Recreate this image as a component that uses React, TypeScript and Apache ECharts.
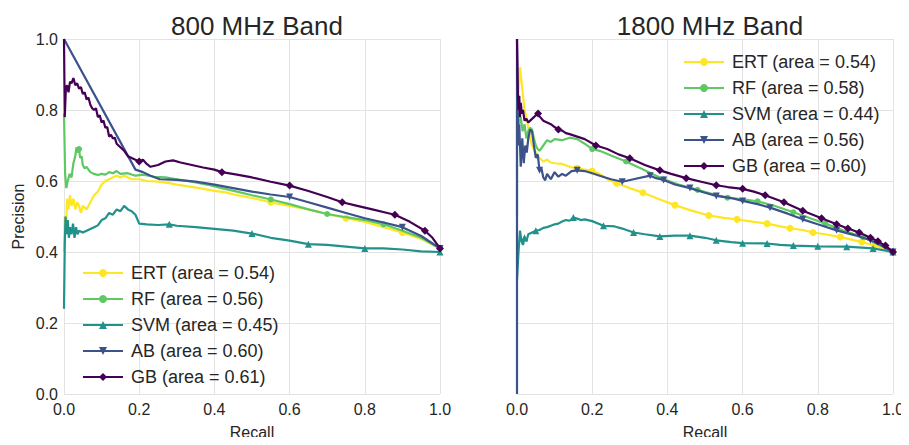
import React, { useEffect, useRef } from "react";
import * as echarts from "echarts";

// ---------- data ----------
const titles = ["800 MHz Band", "1800 MHz Band"];
const xTicks = [0, 0.2, 0.4, 0.6, 0.8, 1.0];

const names800 = ["ERT (area = 0.54)", "RF (area = 0.56)", "SVM (area = 0.45)", "AB (area = 0.60)", "GB (area = 0.61)"];
const names1800 = ["ERT (area = 0.54)", "RF (area = 0.58)", "SVM (area = 0.44)", "AB (area = 0.56)", "GB (area = 0.60)"];

const ert800 = [[0,0.40],[0.002,0.50],[0.005,0.45],[0.008,0.55],[0.012,0.52],[0.016,0.56],[0.02,0.53],[0.025,0.55],[0.03,0.52],[0.035,0.54],[0.04,0.53],[0.045,0.51],[0.05,0.53],[0.06,0.52],[0.07,0.54],[0.08,0.56],[0.09,0.57],[0.10,0.59],[0.11,0.60],[0.12,0.605],[0.13,0.61],[0.14,0.615],[0.15,0.61],[0.16,0.615],[0.18,0.605],[0.2,0.605],[0.22,0.60],[0.25,0.598],[0.28,0.594],[0.3,0.59],[0.33,0.585],[0.36,0.58],[0.4,0.572],[0.43,0.568],[0.46,0.56],[0.5,0.552],[0.55,0.54],[0.6,0.53],[0.65,0.52],[0.7,0.507],[0.75,0.495],[0.8,0.485],[0.85,0.47],[0.9,0.455],[0.95,0.437],[1.0,0.41]];
const rf800 = [[0,0.79],[0.003,0.62],[0.006,0.58],[0.01,0.60],[0.015,0.62],[0.02,0.61],[0.025,0.65],[0.03,0.67],[0.033,0.695],[0.037,0.68],[0.04,0.69],[0.043,0.665],[0.047,0.67],[0.05,0.645],[0.055,0.635],[0.06,0.64],[0.07,0.625],[0.08,0.62],[0.09,0.617],[0.1,0.62],[0.11,0.618],[0.12,0.625],[0.13,0.622],[0.14,0.628],[0.15,0.62],[0.17,0.622],[0.19,0.615],[0.21,0.618],[0.24,0.612],[0.27,0.61],[0.3,0.605],[0.34,0.598],[0.38,0.59],[0.42,0.58],[0.46,0.57],[0.5,0.56],[0.55,0.548],[0.6,0.535],[0.65,0.52],[0.7,0.507],[0.75,0.498],[0.8,0.49],[0.85,0.478],[0.9,0.46],[0.95,0.44],[1.0,0.41]];
const svm800 = [[0,0.24],[0.002,0.42],[0.004,0.50],[0.007,0.45],[0.01,0.49],[0.013,0.44],[0.016,0.47],[0.02,0.45],[0.024,0.48],[0.028,0.44],[0.032,0.47],[0.036,0.45],[0.04,0.46],[0.05,0.455],[0.06,0.46],[0.07,0.465],[0.08,0.47],[0.09,0.475],[0.1,0.49],[0.11,0.495],[0.12,0.51],[0.13,0.505],[0.14,0.52],[0.15,0.515],[0.16,0.53],[0.17,0.52],[0.18,0.515],[0.19,0.505],[0.2,0.48],[0.22,0.478],[0.25,0.476],[0.28,0.478],[0.3,0.474],[0.35,0.47],[0.4,0.465],[0.45,0.46],[0.5,0.452],[0.55,0.44],[0.6,0.432],[0.65,0.422],[0.7,0.42],[0.75,0.415],[0.8,0.41],[0.85,0.41],[0.9,0.407],[0.95,0.402],[1.0,0.40]];
const ab800 = [[0,1.0],[0.19,0.632],[0.21,0.625],[0.23,0.615],[0.255,0.605],[0.3,0.603],[0.35,0.598],[0.4,0.59],[0.45,0.58],[0.5,0.57],[0.55,0.562],[0.6,0.555],[0.65,0.54],[0.7,0.525],[0.75,0.51],[0.8,0.495],[0.85,0.483],[0.9,0.47],[0.95,0.445],[1.0,0.41]];
const gb800 = [[0,1.0],[0.002,0.78],[0.005,0.86],[0.008,0.87],[0.012,0.85],[0.016,0.88],[0.02,0.875],[0.025,0.89],[0.03,0.87],[0.035,0.875],[0.04,0.86],[0.045,0.865],[0.05,0.845],[0.055,0.85],[0.06,0.83],[0.065,0.835],[0.07,0.815],[0.075,0.805],[0.08,0.80],[0.085,0.805],[0.09,0.78],[0.095,0.785],[0.1,0.765],[0.105,0.77],[0.11,0.75],[0.115,0.752],[0.12,0.725],[0.125,0.73],[0.13,0.72],[0.135,0.722],[0.14,0.705],[0.15,0.695],[0.16,0.685],[0.17,0.67],[0.18,0.665],[0.19,0.66],[0.2,0.655],[0.21,0.66],[0.22,0.648],[0.23,0.64],[0.25,0.645],[0.27,0.655],[0.29,0.658],[0.31,0.652],[0.34,0.645],[0.37,0.638],[0.4,0.632],[0.42,0.625],[0.46,0.618],[0.5,0.61],[0.55,0.598],[0.6,0.587],[0.65,0.572],[0.7,0.555],[0.74,0.54],[0.78,0.53],[0.82,0.52],[0.86,0.51],[0.88,0.505],[0.92,0.485],[0.96,0.46],[0.98,0.44],[1.0,0.41]];

const ert1800 = [[0,0.78],[0.004,0.85],[0.008,0.92],[0.012,0.88],[0.016,0.84],[0.02,0.80],[0.025,0.78],[0.03,0.75],[0.035,0.72],[0.04,0.70],[0.05,0.68],[0.06,0.665],[0.07,0.655],[0.08,0.66],[0.09,0.652],[0.1,0.65],[0.12,0.648],[0.14,0.64],[0.16,0.636],[0.18,0.632],[0.2,0.628],[0.22,0.62],[0.24,0.605],[0.265,0.594],[0.3,0.58],[0.335,0.567],[0.38,0.548],[0.42,0.532],[0.46,0.518],[0.51,0.503],[0.55,0.496],[0.585,0.492],[0.63,0.485],[0.665,0.48],[0.7,0.472],[0.726,0.467],[0.76,0.462],[0.787,0.455],[0.82,0.45],[0.86,0.442],[0.89,0.435],[0.917,0.428],[0.95,0.418],[0.975,0.41],[1.0,0.40]];
const rf1800 = [[0,0.50],[0,0.80],[0.005,0.76],[0.01,0.78],[0.015,0.74],[0.02,0.76],[0.025,0.72],[0.03,0.74],[0.035,0.75],[0.04,0.745],[0.045,0.72],[0.05,0.70],[0.055,0.69],[0.06,0.685],[0.07,0.70],[0.08,0.715],[0.09,0.71],[0.1,0.718],[0.12,0.715],[0.14,0.722],[0.16,0.718],[0.18,0.705],[0.2,0.69],[0.22,0.685],[0.25,0.672],[0.29,0.655],[0.33,0.635],[0.36,0.62],[0.39,0.605],[0.43,0.59],[0.48,0.575],[0.52,0.563],[0.56,0.553],[0.6,0.548],[0.64,0.543],[0.69,0.528],[0.735,0.512],[0.78,0.495],[0.82,0.48],[0.87,0.46],[0.92,0.442],[0.96,0.422],[1.0,0.40]];
const svm1800 = [[0,0.32],[0.004,0.40],[0.008,0.46],[0.012,0.43],[0.016,0.42],[0.02,0.44],[0.025,0.43],[0.03,0.45],[0.04,0.455],[0.05,0.46],[0.06,0.462],[0.07,0.468],[0.08,0.47],[0.09,0.474],[0.1,0.478],[0.11,0.48],[0.12,0.486],[0.13,0.49],[0.14,0.488],[0.15,0.497],[0.16,0.494],[0.17,0.49],[0.18,0.492],[0.2,0.487],[0.23,0.474],[0.26,0.472],[0.28,0.466],[0.31,0.455],[0.34,0.45],[0.38,0.444],[0.42,0.446],[0.46,0.446],[0.5,0.44],[0.53,0.433],[0.57,0.428],[0.6,0.425],[0.665,0.424],[0.7,0.42],[0.735,0.418],[0.8,0.416],[0.877,0.415],[0.947,0.41],[1.0,0.40]];
const ab1800 = [[0,0.0],[0,1.0],[0.003,0.70],[0.006,0.76],[0.01,0.64],[0.014,0.72],[0.018,0.65],[0.022,0.70],[0.026,0.68],[0.03,0.72],[0.035,0.745],[0.04,0.74],[0.045,0.70],[0.05,0.665],[0.055,0.675],[0.06,0.63],[0.065,0.635],[0.07,0.61],[0.075,0.602],[0.08,0.62],[0.09,0.605],[0.1,0.625],[0.11,0.612],[0.12,0.62],[0.13,0.615],[0.145,0.628],[0.16,0.63],[0.18,0.628],[0.2,0.622],[0.22,0.615],[0.25,0.605],[0.28,0.598],[0.31,0.605],[0.354,0.615],[0.37,0.608],[0.39,0.603],[0.42,0.59],[0.46,0.58],[0.5,0.567],[0.53,0.558],[0.57,0.552],[0.6,0.544],[0.64,0.535],[0.673,0.525],[0.72,0.508],[0.76,0.492],[0.8,0.478],[0.85,0.461],[0.9,0.447],[0.94,0.433],[0.97,0.418],[1.0,0.40]];
const gb1800 = [[0,1.0],[0.002,0.86],[0.004,0.80],[0.006,0.84],[0.008,0.78],[0.01,0.82],[0.013,0.79],[0.016,0.80],[0.02,0.77],[0.025,0.775],[0.03,0.765],[0.035,0.77],[0.04,0.775],[0.045,0.78],[0.05,0.785],[0.056,0.79],[0.06,0.782],[0.07,0.77],[0.08,0.765],[0.09,0.76],[0.1,0.752],[0.11,0.745],[0.12,0.742],[0.13,0.735],[0.14,0.732],[0.16,0.725],[0.18,0.718],[0.21,0.70],[0.24,0.69],[0.27,0.675],[0.3,0.664],[0.34,0.645],[0.38,0.63],[0.41,0.62],[0.45,0.608],[0.49,0.598],[0.53,0.588],[0.56,0.583],[0.6,0.578],[0.63,0.57],[0.66,0.56],[0.71,0.54],[0.76,0.516],[0.81,0.495],[0.85,0.478],[0.88,0.466],[0.91,0.455],[0.94,0.44],[0.96,0.43],[0.98,0.418],[1.0,0.40]];

// recall positions where a marker is drawn (markevery-like)
const marks800 = [
  [0.55, 0.75, 0.92],
  [0.04, 0.55, 0.7, 0.85, 1.0],
  [0.28, 0.5, 0.65, 0.8, 1.0],
  [0.6, 0.9, 1.0],
  [0.2, 0.42, 0.6, 0.74, 0.88, 0.96, 1.0],
];
const marks1800 = [
  [0.16, 0.2, 0.265, 0.335, 0.42, 0.51, 0.585, 0.665, 0.726, 0.787, 0.86, 0.917, 0.95, 1.0],
  [0.2, 0.29, 0.39, 0.48, 0.56, 0.64, 0.735, 0.82, 0.92, 1.0],
  [0.02, 0.05, 0.15, 0.23, 0.31, 0.38, 0.46, 0.53, 0.6, 0.665, 0.735, 0.8, 0.877, 0.947, 1.0],
  [0.06, 0.16, 0.28, 0.354, 0.39, 0.46, 0.53, 0.6, 0.673, 0.76, 0.85, 0.94, 1.0],
  [0.056, 0.11, 0.21, 0.3, 0.38, 0.45, 0.53, 0.6, 0.66, 0.71, 0.76, 0.81, 0.85, 0.88, 0.91, 0.94, 0.96, 0.98, 1.0],
];

// ---------- styles ----------
const colors = ["#fde725", "#5ec962", "#21918c", "#3b528b", "#440154"];
const symbols = ["circle", "circle", "triangle", "triangle", "diamond"];
const symRot = [0, 0, 0, 180, 0];
const symSizes = [7, 6, 7, 7, 8];
const FONT = "'Liberation Sans', Arial, sans-serif";
const TXT = "#262626";

function buildSeries(pts: number[][], name: string, i: number, axis: number, marks: number[]) {
  const idx = new Set<number>();
  marks.forEach((m) => {
    let best = 0;
    let bd = Infinity;
    pts.forEach((p, k) => {
      const d = Math.abs(p[0] - m);
      if (d < bd) { bd = d; best = k; }
    });
    idx.add(best);
  });
  return {
    type: "line",
    name,
    xAxisIndex: axis,
    yAxisIndex: axis,
    symbol: symbols[i],
    symbolRotate: symRot[i],
    symbolSize: symSizes[i],
    showSymbol: true,
    showAllSymbol: true,
    color: colors[i],
    lineStyle: { width: 2.2, color: colors[i] },
    itemStyle: { color: colors[i] },
    emphasis: { disabled: true },
    data: pts.map((p, k) => (idx.has(k) ? { value: p } : { value: p, symbol: "none" })),
    z: 2 + i,
  };
}

export default function App() {
  const ref = useRef<HTMLDivElement>(null);
  useEffect(() => {
    if (!ref.current) return;
    const chart = echarts.init(ref.current, undefined, { renderer: "svg" });
    const d800 = [ert800, rf800, svm800, ab800, gb800];
    const d1800 = [ert1800, rf1800, svm1800, ab1800, gb1800];
    const series: any[] = [];
    d800.forEach((d, i) => series.push(buildSeries(d, names800[i], i, 0, marks800[i])));
    d1800.forEach((d, i) => series.push(buildSeries(d, names1800[i], i, 1, marks1800[i])));

    const xAxisBase = (gridIndex: number) => ({
      type: "value",
      gridIndex,
      min: 0,
      max: 1,
      interval: 0.2,
      name: "Recall",
      nameLocation: "middle",
      nameGap: 30,
      nameTextStyle: { fontSize: 16, color: TXT, fontFamily: FONT },
      axisLine: { show: false },
      axisTick: { show: false },
      axisLabel: {
        fontSize: 16,
        color: TXT,
        fontFamily: FONT,
        margin: 7,
        formatter: (v: number) => (xTicks.some((t) => Math.abs(t - v) < 1e-9) ? v.toFixed(1) : ""),
      },
      splitLine: { show: true, lineStyle: { color: "#e3e3e3", width: 1 } },
    });
    const yAxisBase = (gridIndex: number, showLabels: boolean) => ({
      type: "value",
      gridIndex,
      min: 0,
      max: 1,
      interval: 0.2,
      name: showLabels ? "Precision" : "",
      nameLocation: "middle",
      nameGap: 38,
      nameTextStyle: { fontSize: 16, color: TXT, fontFamily: FONT },
      axisLine: { show: false },
      axisTick: { show: false },
      axisLabel: {
        show: showLabels,
        fontSize: 16,
        color: TXT,
        fontFamily: FONT,
        margin: 6,
        formatter: (v: number) => v.toFixed(1),
      },
      splitLine: { show: true, lineStyle: { color: "#e3e3e3", width: 1 } },
    });

    const legendBase = {
      orient: "vertical",
      itemWidth: 40,
      itemHeight: 10,
      itemGap: 8,
      selectedMode: false,
      textStyle: { fontSize: 18, color: TXT, fontFamily: FONT, padding: [0, 0, 0, 3] },
    };

    chart.setOption({
      animation: false,
      backgroundColor: "#ffffff",
      textStyle: { fontFamily: FONT },
      title: [
        { text: titles[0], left: 252, top: 8, textAlign: "center", textStyle: { fontSize: 26, fontWeight: "normal", color: TXT, fontFamily: FONT } },
        { text: titles[1], left: 705, top: 8, textAlign: "center", textStyle: { fontSize: 26, fontWeight: "normal", color: TXT, fontFamily: FONT } },
      ],
      grid: [
        { left: 64, right: 469, top: 39, bottom: 46 },
        { left: 517, right: 16, top: 39, bottom: 46 },
      ],
      xAxis: [xAxisBase(0), xAxisBase(1)],
      yAxis: [yAxisBase(0, true), yAxisBase(1, false)],
      legend: [
        { ...legendBase, left: 77, top: 259, data: names800 },
        { ...legendBase, left: 678, top: 48, data: names1800 },
      ],
      series,
    });
    return () => chart.dispose();
  }, []);
  return <div ref={ref} style={{ width: 909, height: 445, margin: -8 }} />;
}
